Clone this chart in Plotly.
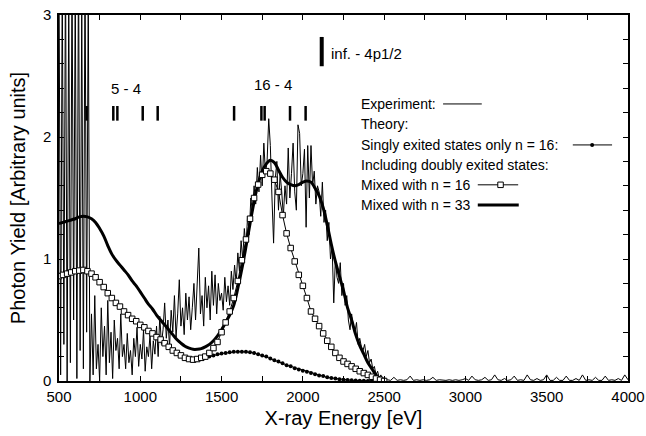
import plotly.graph_objects as go

# ---------------- data ----------------
# Experiment, 10 eV steps from 500 to 2500 eV
exp_x_main = list(range(500, 2501, 10))
exp_y_main = [
    # 500-690
    3.4, 0.05, 3.3, 0.3, 3.5, 0.0, 3.2, 0.15, 3.4, 0.5, 3.3, 0.02, 3.5, 0.25, 3.1, 0.1, 3.4, 0.4, 3.2, 0.0,
    # 700-890
    0.55, 0.05, 0.70, 0.1, 0.3, 0.0, 0.6, 0.2, 0.45, 0.05, 0.66, 0.15, 0.4, 0.02, 0.5, 0.25, 0.35, 0.1, 0.55, 0.2,
    # 900-1090
    0.3, 0.1, 0.39, 0.15, 0.25, 0.05, 0.35, 0.2, 0.44, 0.12, 0.3, 0.18, 0.42, 0.08, 0.28, 0.2, 0.38, 0.1, 0.33, 0.22,
    # 1100-1290
    0.45, 0.2, 0.53, 0.3, 0.42, 0.64, 0.35, 0.5, 0.28, 0.58, 0.4, 0.7, 0.36, 0.55, 0.83, 0.45, 0.6, 0.38, 0.72, 0.5,
    # 1300-1490
    0.69, 0.42, 0.6, 0.8, 0.5, 0.75, 1.09, 0.55, 0.7, 0.45, 0.85, 0.6, 0.78, 0.5, 0.9, 0.62, 0.87, 0.55, 0.8, 0.66,
    # 1500-1690
    0.72, 0.58, 0.85, 0.65, 0.78, 0.62, 0.9, 0.75, 0.95, 0.8, 1.05, 0.9, 1.15, 1.0, 1.25, 1.1, 1.35, 1.2, 1.5, 1.38,
    # 1700-1890
    1.6, 1.45, 1.75, 1.55, 1.85, 1.6, 1.95, 1.7, 1.8, 2.15, 1.93, 1.5, 1.13, 1.65, 1.8, 1.4, 1.7, 1.55, 1.35, 1.6,
    # 1900-2090
    1.45, 1.91, 1.5, 1.7, 1.95, 1.55, 1.4, 2.10, 2.03, 1.6, 1.7, 1.90, 1.26, 1.93, 1.5, 1.93, 1.6, 1.72, 1.45, 1.6,
    # 2100-2290
    1.55, 1.35, 1.63, 1.3, 1.4, 1.15, 1.3, 1.0, 1.1, 0.64, 1.0, 0.85, 0.8, 0.97, 0.7, 0.8, 0.62, 0.7, 0.5, 0.42,
    # 2300-2500
    0.55, 0.45, 0.4, 0.48, 0.3, 0.35, 0.28, 0.25, 0.3, 0.2, 0.25, 0.15, 0.18, 0.1, 0.12, 0.05, 0.08, 0.02, 0.05, 0.01, 0.03,
]
# Experiment tail, 20 eV steps from 2520 to 4000 eV
exp_x_tail = list(range(2520, 4001, 20))
exp_y_tail = [
    0.01, 0.005, 0.03, 0.005, 0.01, 0.005, 0.01, 0.04, 0.005, 0.01,
    0.005, 0.01, 0.005, 0.01, 0.03, 0.005, 0.01, 0.005, 0.005, 0.01,
    0.005, 0.01, 0.005, 0.01, 0.02, 0.005, 0.04, 0.01, 0.005, 0.01,
    0.03, 0.005, 0.01, 0.05, 0.01, 0.005, 0.02, 0.005, 0.01, 0.04,
    0.005, 0.01, 0.005, 0.05, 0.01, 0.005, 0.02, 0.005, 0.01, 0.05,
    0.005, 0.005, 0.03, 0.005, 0.005, 0.04, 0.005, 0.005, 0.02, 0.005,
    0.05, 0.005, 0.01, 0.005, 0.03, 0.005, 0.005, 0.04, 0.005, 0.01,
    0.005, 0.02, 0.005, 0.05, 0.01,
]

# Theory curves, 25 eV steps from 500 to 2500 eV
theory_x = list(range(500, 2501, 25))
mixed33_y = [
    1.29, 1.30, 1.31, 1.32, 1.33, 1.345, 1.35, 1.345, 1.33, 1.30,   # 500-725
    1.25, 1.19, 1.11, 1.04, 0.99, 0.95, 0.91, 0.87, 0.82, 0.78,     # 750-975
    0.73, 0.68, 0.63, 0.59, 0.54, 0.50, 0.46, 0.42, 0.38, 0.34,     # 1000-1225
    0.31, 0.285, 0.27, 0.26, 0.26, 0.265, 0.28, 0.30, 0.33, 0.37,   # 1250-1475
    0.42, 0.48, 0.54, 0.62, 0.76, 0.92, 1.10, 1.29, 1.47, 1.62,     # 1500-1725
    1.72, 1.78, 1.81, 1.79, 1.73, 1.67, 1.63, 1.61, 1.60, 1.61,     # 1750-1975
    1.63, 1.64, 1.63, 1.58, 1.52, 1.42, 1.28, 1.12, 0.98, 0.86,     # 2000-2225
    0.74, 0.60, 0.50, 0.38, 0.29, 0.22, 0.15, 0.10, 0.05, 0.02,     # 2250-2475
    0.0,                                                            # 2500
]
mixed16_y = [
    0.86, 0.87, 0.88, 0.89, 0.90, 0.905, 0.91, 0.90, 0.88, 0.85,    # 500-725
    0.81, 0.77, 0.72, 0.68, 0.64, 0.61, 0.57, 0.54, 0.51, 0.49,     # 750-975
    0.46, 0.44, 0.41, 0.39, 0.36, 0.34, 0.31, 0.28, 0.25, 0.23,     # 1000-1225
    0.21, 0.19, 0.18, 0.175, 0.18, 0.19, 0.20, 0.23, 0.27, 0.32,    # 1250-1475
    0.40, 0.48, 0.57, 0.68, 0.82, 0.99, 1.16, 1.33, 1.50, 1.61,     # 1500-1725
    1.69, 1.72, 1.70, 1.65, 1.55, 1.36, 1.21, 1.09, 0.98, 0.87,     # 1750-1975
    0.78, 0.68, 0.57, 0.51, 0.45, 0.39, 0.33, 0.28, 0.23, 0.19,     # 2000-2225
    0.16, 0.14, 0.12, 0.10, 0.08, 0.065, 0.05, 0.035, 0.02, 0.01,   # 2250-2475
    0.0,                                                            # 2500
]
singly16_y = [
    0.86, 0.87, 0.88, 0.89, 0.90, 0.905, 0.91, 0.90, 0.88, 0.85,    # 500-725
    0.81, 0.77, 0.72, 0.68, 0.64, 0.61, 0.57, 0.54, 0.51, 0.49,     # 750-975
    0.46, 0.44, 0.41, 0.39, 0.36, 0.34, 0.31, 0.28, 0.25, 0.23,     # 1000-1225
    0.21, 0.19, 0.18, 0.17, 0.175, 0.18, 0.19, 0.20, 0.21, 0.22,    # 1250-1475
    0.225, 0.23, 0.235, 0.24, 0.24, 0.24, 0.24, 0.235, 0.23, 0.22,  # 1500-1725
    0.21, 0.20, 0.185, 0.17, 0.16, 0.145, 0.13, 0.12, 0.105, 0.095, # 1750-1975
    0.085, 0.075, 0.065, 0.055, 0.045, 0.04, 0.03, 0.025, 0.02, 0.015, # 2000-2225
    0.01, 0.008, 0.006, 0.004, 0.003, 0.002, 0.001, 0.0, 0.0, 0.0,  # 2250-2475
    0.0,                                                            # 2500
]

# Transition energy markers
trans_5_4 = [670, 834, 859, 1015, 1107]
trans_16_4 = [1577, 1745, 1765, 1921, 2017]
trans_level = (2.134, 2.254)
inf_4p12 = 2116
inf_level = (2.58, 2.82)

x_ticks = list(range(500, 4001, 250))
x_ticktext = [str(v) if v % 500 == 0 else "" for v in x_ticks]
y_ticks = [round(i * 0.2, 1) for i in range(16)]
y_ticktext = [str(int(v)) if abs(v - round(v)) < 1e-9 else "" for v in y_ticks]

FONT = "Liberation Sans, Arial, Helvetica, sans-serif"

fig = go.Figure()

fig.add_trace(go.Scatter(x=exp_x_main + exp_x_tail, y=exp_y_main + exp_y_tail,
                         mode="lines", line=dict(color="black", width=1),
                         showlegend=False))
fig.add_trace(go.Scatter(x=theory_x, y=mixed33_y, mode="lines",
                         line=dict(color="black", width=3, shape="spline"),
                         showlegend=False))
fig.add_trace(go.Scatter(x=theory_x, y=singly16_y, mode="lines+markers",
                         line=dict(color="black", width=1),
                         marker=dict(symbol="circle", size=4, color="black"),
                         showlegend=False))
fig.add_trace(go.Scatter(x=theory_x, y=mixed16_y, mode="lines+markers",
                         line=dict(color="black", width=1),
                         marker=dict(symbol="square", size=5.5, color="white",
                                     line=dict(color="black", width=1)),
                         showlegend=False))

# transition bars
def bars(xs, lo, hi):
    bx, by = [], []
    for v in xs:
        bx += [v, v, None]
        by += [lo, hi, None]
    return bx, by

bx, by = bars(trans_5_4 + trans_16_4, *trans_level)
fig.add_trace(go.Scatter(x=bx, y=by, mode="lines", line=dict(color="black", width=2.5),
                         showlegend=False))
bx, by = bars([inf_4p12], *inf_level)
fig.add_trace(go.Scatter(x=bx, y=by, mode="lines", line=dict(color="black", width=4),
                         showlegend=False))

# legend samples on an overlay axis spanning the plot area (0..1)
leg_rows = [0.757, 0.702, 0.645, 0.590, 0.536, 0.481]
def leg_line(x0, x1, y, width):
    fig.add_trace(go.Scatter(x=[x0, x1], y=[y, y], mode="lines",
                             line=dict(color="black", width=width),
                             xaxis="x2", yaxis="y2", showlegend=False))

def leg_marker(xc, y, marker):
    fig.add_trace(go.Scatter(x=[xc], y=[y], mode="markers", marker=marker,
                             xaxis="x2", yaxis="y2", showlegend=False))

leg_line(0.675, 0.743, leg_rows[0], 1)
leg_line(0.903, 0.972, leg_rows[2], 1)
leg_marker(0.937, leg_rows[2], dict(symbol="circle", size=4, color="black"))
leg_line(0.736, 0.807, leg_rows[4], 1)
leg_marker(0.776, leg_rows[4], dict(symbol="square", size=5.5, color="white",
                                    line=dict(color="black", width=1)))
leg_line(0.736, 0.808, leg_rows[5], 3)

legend_texts = ["Experiment:", "Theory:", "Singly exited states only n = 16:",
                "Including doubly exited states:", "Mixed with n = 16", "Mixed with n = 33"]
annotations = []
for t, yy in zip(legend_texts, leg_rows):
    annotations.append(dict(x=0.527, y=yy, xref="x2", yref="y2", text=t, showarrow=False,
                            xanchor="left", yanchor="middle",
                            font=dict(family=FONT, size=14, color="black")))

annotations += [
    dict(x=912, y=2.40, xref="x", yref="y", text="5 - 4", showarrow=False,
         xanchor="center", yanchor="middle", font=dict(family=FONT, size=15, color="black")),
    dict(x=1818, y=2.43, xref="x", yref="y", text="16 - 4", showarrow=False,
         xanchor="center", yanchor="middle", font=dict(family=FONT, size=15, color="black")),
    dict(x=2160, y=2.686, xref="x", yref="y", text="inf. - 4p1/2", showarrow=False,
         xanchor="left", yanchor="middle", font=dict(family=FONT, size=15, color="black")),
]

fig.update_layout(
    width=646, height=436,
    margin=dict(l=59, r=18, t=15, b=55, autoexpand=False),
    paper_bgcolor="white", plot_bgcolor="white",
    font=dict(family=FONT, size=15, color="black"),
    showlegend=False,
    annotations=annotations,
    xaxis=dict(range=[500, 4000], tickvals=x_ticks, ticktext=x_ticktext,
               ticks="inside", ticklen=5, tickwidth=1, tickcolor="black",
               showline=True, linecolor="black", linewidth=1.5, mirror="ticks",
               showgrid=False, zeroline=False, automargin=False,
               ticklabelstandoff=1,
               tickfont=dict(family=FONT, size=15),
               title=dict(text="X-ray Energy [eV]", font=dict(family=FONT, size=20), standoff=7)),
    yaxis=dict(range=[0, 3], tickvals=y_ticks, ticktext=y_ticktext,
               ticks="inside", ticklen=5, tickwidth=1, tickcolor="black",
               showline=True, linecolor="black", linewidth=1.5, mirror="ticks",
               showgrid=False, zeroline=False, automargin=False,
               ticklabelstandoff=3,
               tickfont=dict(family=FONT, size=15),
               title=dict(text="Photon Yield [Arbitrary units]", font=dict(family=FONT, size=20), standoff=12)),
    xaxis2=dict(range=[0, 1], overlaying="x", visible=False, fixedrange=True),
    yaxis2=dict(range=[0, 1], overlaying="y", visible=False, fixedrange=True),
)

fig.write_html("out.html")
